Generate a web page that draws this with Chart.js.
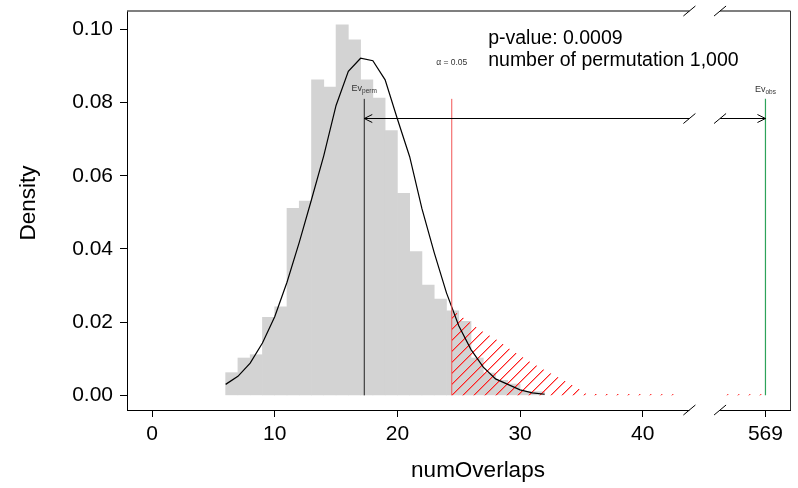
<!DOCTYPE html>
<html>
<head>
<meta charset="utf-8">
<script src="https://cdn.jsdelivr.net/npm/chart.js@4.4.1/dist/chart.umd.min.js"></script>
<style>
  html,body{margin:0;padding:0;background:#fff;}
  canvas{display:block;}
</style>
</head>
<body>
<canvas id="permChart" width="798" height="488"></canvas>
<script>
// --- histogram of permuted overlap counts (bin start, density) ---
const binStarts  = [6,7,8,9,10,11,12,13,14,15,16,17,18,19,20,21,22,23,24,25,26,27,28,29,30,31];
const binDensity = [0.0062,0.0102,0.0111,0.0213,0.0242,0.0511,0.0531,0.0862,0.0842,0.1012,0.0971,0.0862,0.0812,0.0723,
                    0.0552,0.0393,0.0301,0.0263,0.0231,0.0202,0.0102,0.0061,0.0041,0.0031,0.0010,0.0010];

// --- fitted normal density ---
const curveX = [6,7,8,9,10,11,12,13,14,15,16,17,18,19,20,21,22,23,24,25,26,27,28,29,30,31,32];
const curveY = [0.0030,0.0052,0.0088,0.0143,0.0215,0.0309,0.0418,0.0535,0.0655,0.0792,0.0885,0.0921,0.0914,0.0862,
                0.0755,0.0652,0.0510,0.0390,0.0280,0.0190,0.0125,0.0077,0.0045,0.0030,0.0015,0.0007,0.0003];

// --- rejection region (upper tail past alpha) ---
const tailX    = [24.43,25.4,26.7,28.1,29.45,30.8,32.2,33.5,34.9,35.4,43.2];
const tailY    = [0.0234,0.0211,0.0179,0.0152,0.0120,0.0092,0.0065,0.0042,0.0015,0.0004,0.0003];
const tailFarX = [46.8,50];
const tailFarY = [0.0003,0.0003];

// --- axis ---
const xTicks      = [0,10,20,30,40,50];
const xTickLabels = ['0','10','20','30','40','569'];   // 50 is where 569 sits after the break
const yTicks      = [0,0.02,0.04,0.06,0.08,0.10];
const axisBreak   = [43.8,46.3];

// --- markers ---
const evPerm = 17.3, alphaCut = 24.43, evObs = 50;
const markerTop = 0.081, arrowY = 0.0757;

const FONT = "'Liberation Sans', Arial, sans-serif";
Chart.defaults.font.family = FONT;
Chart.defaults.color = '#000';

function hatch(){
  const c = document.createElement('canvas');
  c.width = 11; c.height = 11;
  const g = c.getContext('2d');
  for(let i=0;i<11;i++){
    g.fillStyle = '#ff2020';
    g.fillRect(i, 10-i, 1, 1);
    g.fillStyle = 'rgba(255,40,40,0.45)';
    g.fillRect((i+1)%11, 10-i, 1, 1);
  }
  return g.createPattern(c,'repeat');
}

const pts = (xs,ys)=>xs.map((v,i)=>({x:v,y:ys[i]}));
const vline = v=>[{x:v,y:0},{x:v,y:markerTop}];

function subLabel(ctx, main, sub, cx, cy){
  ctx.font = '9px '+FONT;
  const w1 = ctx.measureText(main).width;
  ctx.font = '6.5px '+FONT;
  const w2 = ctx.measureText(sub).width;
  const x0 = cx-(w1+w2)/2;
  ctx.fillStyle = '#333';
  ctx.textAlign = 'left'; ctx.textBaseline = 'middle';
  ctx.font = '9px '+FONT;
  ctx.fillText(main, x0, cy);
  ctx.font = '6.5px '+FONT;
  ctx.fillText(sub, x0+w1, cy+2.5);
}

const extras = {
  id:'extras',
  afterDatasetsDraw(chart){
    const {ctx, chartArea:a, scales:{x,y}} = chart;
    const b1 = x.getPixelForValue(axisBreak[0]), b2 = x.getPixelForValue(axisBreak[1]);
    const slash = (cx,cy)=>{ ctx.moveTo(cx-6,cy+5); ctx.lineTo(cx+6,cy-5); };
    ctx.save();
    // gap in the bottom axis
    ctx.fillStyle = '#fff';
    ctx.fillRect(b1, a.bottom-2, b2-b1, 4);
    // top and right border
    ctx.strokeStyle = '#555'; ctx.lineWidth = 1.4;
    ctx.beginPath();
    ctx.moveTo(a.left, a.top); ctx.lineTo(b1, a.top);
    ctx.moveTo(b2, a.top); ctx.lineTo(a.right+0.5, a.top);
    ctx.stroke();
    ctx.strokeStyle = '#333'; ctx.lineWidth = 1;
    ctx.beginPath();
    ctx.moveTo(a.right+0.5, a.top); ctx.lineTo(a.right+0.5, a.bottom);
    ctx.stroke();
    // arrow from Ev_perm to Ev_obs
    const ay = Math.round(y.getPixelForValue(arrowY))+0.5;
    const p1 = x.getPixelForValue(evPerm), p2 = x.getPixelForValue(evObs);
    ctx.strokeStyle = '#000';
    ctx.beginPath();
    ctx.moveTo(p1, ay); ctx.lineTo(b1, ay);
    ctx.moveTo(b2, ay); ctx.lineTo(p2, ay);
    ctx.moveTo(p1+8, ay-4); ctx.lineTo(p1, ay); ctx.lineTo(p1+8, ay+4);
    ctx.moveTo(p2-8, ay-4); ctx.lineTo(p2, ay); ctx.lineTo(p2-8, ay+4);
    ctx.stroke();
    // break marks
    ctx.beginPath();
    [a.top, ay, a.bottom].forEach(cy=>{ slash(b1,cy); slash(b2,cy); });
    ctx.stroke();
    // axis titles
    ctx.fillStyle = '#000';
    ctx.textAlign = 'center'; ctx.textBaseline = 'middle';
    ctx.font = '22.5px '+FONT;
    ctx.fillText('numOverlaps', 478, 471);
    ctx.save();
    ctx.translate(29, 203); ctx.rotate(-Math.PI/2);
    ctx.fillText('Density', 0, 0);
    ctx.restore();
    // labels
    ctx.font = '19.5px '+FONT;
    ctx.textAlign = 'left';
    const tx = x.getPixelForValue(27.4);
    ctx.fillText('p-value: 0.0009', tx, y.getPixelForValue(0.0975));
    ctx.fillText('number of permutation 1,000', tx, y.getPixelForValue(0.0915));
    ctx.font = '8.5px '+FONT;
    ctx.fillStyle = '#333';
    ctx.textAlign = 'center';
    ctx.fillText('\u03b1 = 0.05', x.getPixelForValue(alphaCut), y.getPixelForValue(0.0908));
    subLabel(ctx, 'Ev', 'perm', x.getPixelForValue(evPerm), y.getPixelForValue(0.0837));
    subLabel(ctx, 'Ev', 'obs', x.getPixelForValue(evObs), y.getPixelForValue(0.0835));
    ctx.restore();
  }
};

new Chart(document.getElementById('permChart'), {
  type:'bar',
  data:{
    datasets:[
      { type:'line', data:vline(evPerm), borderColor:'#222', borderWidth:1, pointRadius:0, order:0 },
      { type:'line', data:vline(alphaCut), borderColor:'#f25555', borderWidth:1, pointRadius:0, order:0 },
      { type:'line', data:vline(evObs), borderColor:'#2ea35a', borderWidth:1.2, pointRadius:0, order:0 },
      { type:'line', data:pts(curveX,curveY), borderColor:'#000', borderWidth:1.2, pointRadius:0, tension:0, order:1 },
      { type:'line', data:pts(tailX,tailY), borderWidth:0, borderColor:'rgba(0,0,0,0)', pointRadius:0, fill:'origin', backgroundColor:hatch(), order:2 },
      { type:'line', data:pts(tailFarX,tailFarY), borderWidth:0, borderColor:'rgba(0,0,0,0)', pointRadius:0, fill:'origin', backgroundColor:hatch(), order:2 },
      { type:'bar', data:binStarts.map((v,i)=>({x:v+0.5,y:binDensity[i]})), backgroundColor:'#d3d3d3',
        borderWidth:0, categoryPercentage:1, barPercentage:1, order:3 }
    ]
  },
  options:{
    responsive:false, animation:false,
    layout:{ padding:{ left:0, right:8, top:11, bottom:0 } },
    plugins:{ legend:{display:false}, tooltip:{enabled:false} },
    scales:{
      x:{
        type:'linear', min:-2.04, max:52, offset:false,
        afterBuildTicks:s=>{ s.ticks = xTicks.map(v=>({value:v})); },
        afterFit:s=>{ s.height = 78; s.paddingLeft = 0; s.paddingRight = 0; },
        grid:{ offset:false, drawOnChartArea:false, drawTicks:true, tickLength:7, color:'#000' },
        border:{ display:true, color:'#000', width:1 },
        ticks:{ font:{size:21}, padding:5, maxRotation:0, autoSkip:false,
                callback:v=>xTickLabels[xTicks.indexOf(v)] }
      },
      y:{
        type:'linear', min:-0.004, max:0.105,
        afterBuildTicks:s=>{ s.ticks = yTicks.map(v=>({value:v})); },
        afterFit:s=>{ s.width = 127; s.paddingTop = 0; s.paddingBottom = 0; },
        grid:{ drawOnChartArea:false, drawTicks:true, tickLength:7, color:'#000' },
        border:{ display:true, color:'#000', width:1 },
        ticks:{ font:{size:21}, padding:7, callback:v=>v.toFixed(2) }
      }
    }
  },
  plugins:[extras]
});
</script>
</body>
</html>
